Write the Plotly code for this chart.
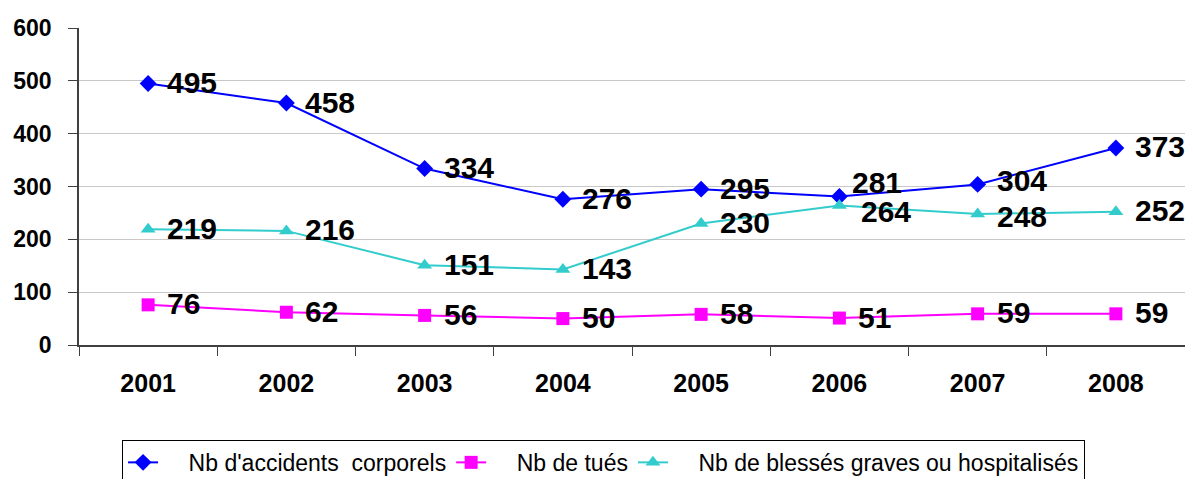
import plotly.graph_objects as go

years = ["2001", "2002", "2003", "2004", "2005", "2006", "2007", "2008"]
accidents = [495, 458, 334, 276, 295, 281, 304, 373]
tues = [76, 62, 56, 50, 58, 51, 59, 59]
blesses = [219, 216, 151, 143, 230, 264, 248, 252]

names = ["Nb d'accidents\u00a0\u00a0corporels", "Nb de tués", "Nb de blessés graves ou hospitalisés"]
colors = ["#0000FF", "#FF00FF", "#33CCCC"]
symbols = ["diamond", "square", "triangle-up"]
series = [accidents, tues, blesses]

# per-series label nudges (pixels) for the crowded 2006/2007 labels
label_yshift = [{"2006": 14, "2007": 4}, {}, {"2006": -6, "2007": -3}]
label_xshift = [{"2006": 11}, {}, {"2006": 20}]

fig = go.Figure()
for name, vals, col, sym in zip(names, series, colors, symbols):
    fig.add_trace(go.Scatter(
        x=years, y=vals, name="\u00a0" * 4 + name, mode="lines+markers",
        line=dict(color=col, width=2),
        marker=dict(color=col, symbol=sym, size=13),
    ))

for vals, ys, xs in zip(series, label_yshift, label_xshift):
    for i, (yr, v) in enumerate(zip(years, vals)):
        fig.add_annotation(
            x=i, y=v, text="<b>%d</b>" % v, showarrow=False,
            xanchor="left", yanchor="middle",
            xshift=xs.get(yr, 17), yshift=ys.get(yr, 1),
            font=dict(family="Arial, Liberation Sans", size=30, color="black"),
        )

# the page body adds an 8px margin, so the figure is sized to fit inside the window
fig.update_layout(
    width=1177, height=471,
    margin=dict(l=71, r=0, t=20, b=134),
    plot_bgcolor="white", paper_bgcolor="white",
    font=dict(family="Arial, Liberation Sans", color="black"),
    legend=dict(orientation="h", xref="container", yref="container",
                x=0.506, xanchor="center", y=0.083, yanchor="top",
                bordercolor="black", borderwidth=1, bgcolor="white",
                font=dict(size=23), itemwidth=30),
)
fig.update_xaxes(type="category", showline=True, linecolor="#404040", linewidth=1.5,
                 ticks="outside", tickson="boundaries", ticklen=9, tickcolor="#404040",
                 tickfont=dict(size=25, weight="bold"), ticklabelstandoff=15,
                 showgrid=False, range=[-0.5, 7.5], automargin=False)
fig.update_yaxes(range=[0, 600], dtick=100, showline=True, linecolor="#404040", linewidth=1.5,
                 ticks="outside", ticklen=9, tickcolor="#404040",
                 tickfont=dict(size=23, weight="bold"), ticklabelstandoff=12,
                 showgrid=True, gridcolor="#C8C8C8", gridwidth=1.2, zeroline=False,
                 automargin=False)

fig.write_html("out.html")
